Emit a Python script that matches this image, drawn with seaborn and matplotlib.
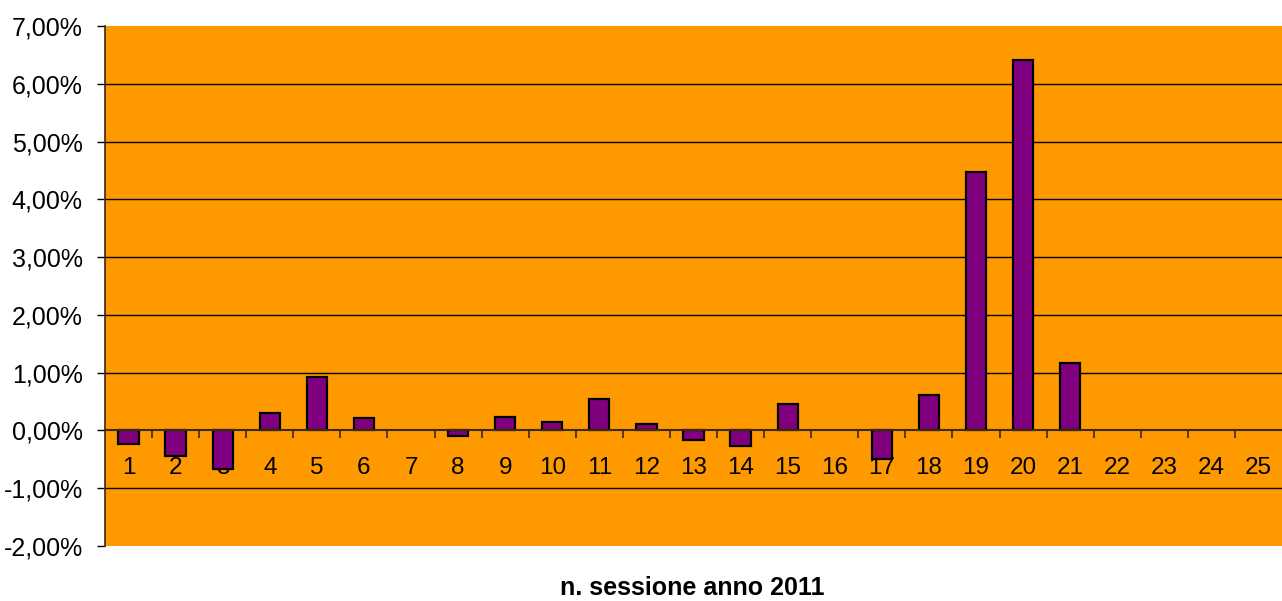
import matplotlib
matplotlib.use('Agg')
import matplotlib.pyplot as plt
import matplotlib.ticker as mticker
import seaborn as sns
import pandas as pd

# session numbers and % change per session (2011)
sessioni = [str(i) for i in range(1, 26)]
variazioni = [-0.23, -0.44, -0.67, 0.31, 0.93, 0.21, 0.0, -0.10, 0.24, 0.14,
              0.55, 0.11, -0.17, -0.27, 0.45, 0.0, -0.50, 0.62, 4.47, 6.41,
              1.16, 0.0, 0.0, 0.0, 0.0]
y_ticks = [-2, -1, 0, 1, 2, 3, 4, 5, 6, 7]

sns.set_style('white')
plt.rcParams['font.family'] = ['Liberation Sans', 'DejaVu Sans']
plt.rcParams['text.color'] = 'black'
plt.rcParams['xtick.color'] = 'black'
plt.rcParams['ytick.color'] = 'black'

df = pd.DataFrame({'sessione': sessioni, 'variazione': variazioni})

fig = plt.figure(figsize=(12.82, 6.01), dpi=100)
ax = fig.add_axes([105 / 1282, 1 - 546 / 601, 1 - 105 / 1282, (546 - 26) / 601])
ax.set_facecolor('#FF9900')

sns.barplot(data=df, x='sessione', y='variazione', color='#800080',
            width=0.43, edgecolor='black', linewidth=1.6, saturation=1,
            ax=ax, zorder=3)
# empty sessions: no outline
for bar, v in zip(ax.patches, variazioni):
    if v == 0:
        bar.set_visible(False)

ax.set_ylim(-2, 7)
ax.set_xlim(-0.5, 24.5)
ax.set_yticks(y_ticks)
ax.yaxis.set_major_formatter(mticker.FuncFormatter(lambda v, p: f'{v:.2f}%'.replace('.', ',')))
for t in y_ticks:
    if t not in (-2, 0, 7):
        ax.axhline(t, color='black', linewidth=1, zorder=1)

# x axis sits on the zero line, labels just below it
ax.spines['bottom'].set_position(('data', 0))
ax.spines['bottom'].set_color('#3a2a10')
ax.spines['bottom'].set_linewidth(1.5)
ax.spines['bottom'].set_zorder(4)
ax.spines['top'].set_visible(False)
ax.spines['right'].set_visible(False)
ax.spines['left'].set_color('#3a2a10')
ax.spines['left'].set_linewidth(1.2)
ax.set_xticks(range(25))
ax.set_xticks([i + 0.5 for i in range(24)], minor=True)
ax.tick_params(axis='x', which='major', length=0, pad=19, labelsize=17.5, labelcolor='black')
ax.tick_params(axis='x', which='minor', length=6, width=1.2, color='#3a2a10',
               direction='out', bottom=True)
ax.tick_params(axis='y', length=6, width=1, color='black', labelsize=18, pad=10, left=True,
               labelcolor='black')

ax.set_xlabel('')
ax.set_ylabel('')
fig.text(692 / 1282, 1 - 588 / 601, 'n. sessione anno 2011', ha='center', va='center',
         fontsize=18, fontweight='bold', color='black')

fig.savefig('out.png', dpi=100, facecolor='white')
